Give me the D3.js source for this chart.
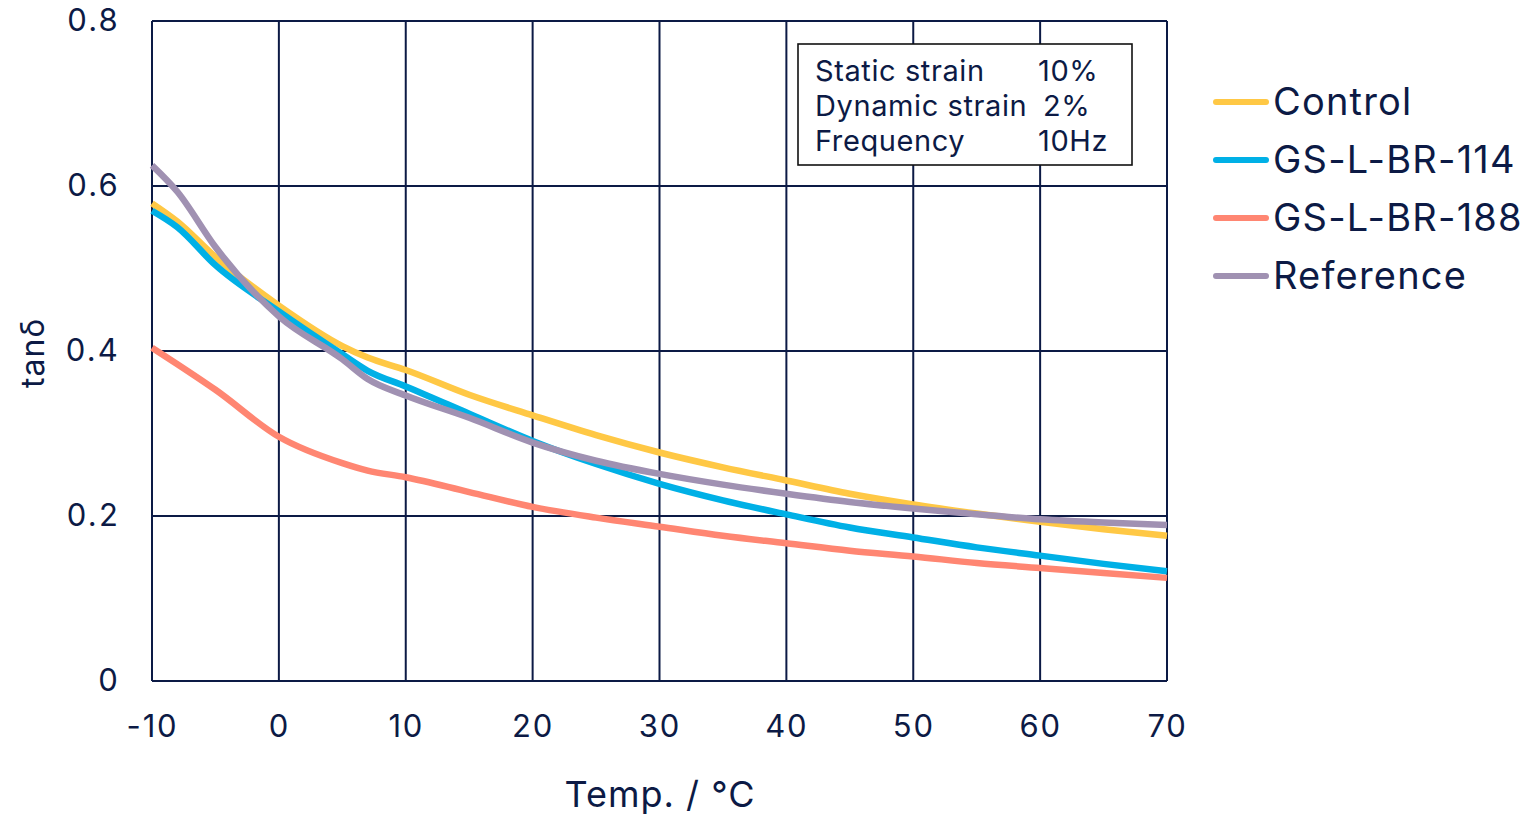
<!DOCTYPE html>
<html>
<head>
<meta charset="utf-8">
<script src="https://cdn.jsdelivr.net/npm/d3@7"></script>
<style>
  html, body { margin: 0; padding: 0; background: #fff; }
  svg { display: block; font-family: Inter, "Noto Sans", sans-serif; }
</style>
</head>
<body>
<svg id="chart" width="1530" height="815"></svg>
<script>
// ---- data ----
const temps      = [-10, -8, -5, 0, 5, 7, 10, 15, 20, 25, 30, 35, 40, 45, 50, 55, 60, 65, 70];
const control    = [0.579, 0.557, 0.514, 0.455, 0.406, 0.392, 0.377, 0.347, 0.322, 0.298, 0.277, 0.259, 0.243, 0.227, 0.214, 0.203, 0.193, 0.184, 0.176];
const gs114      = [0.570, 0.550, 0.504, 0.448, 0.396, 0.376, 0.357, 0.324, 0.291, 0.263, 0.239, 0.219, 0.202, 0.186, 0.174, 0.162, 0.152, 0.142, 0.133];
const gs188      = [0.404, 0.384, 0.353, 0.296, 0.264, 0.255, 0.247, 0.229, 0.211, 0.198, 0.187, 0.176, 0.167, 0.158, 0.151, 0.143, 0.137, 0.131, 0.125];
const reference  = [0.625, 0.593, 0.526, 0.442, 0.390, 0.366, 0.346, 0.319, 0.289, 0.267, 0.251, 0.238, 0.227, 0.217, 0.209, 0.202, 0.196, 0.192, 0.189];
const seriesNames = ["Control", "GS-L-BR-114", "GS-L-BR-188", "Reference"];
const xTicks = [-10, 0, 10, 20, 30, 40, 50, 60, 70];
const xTickLabels = ["-10", "0", "10", "20", "30", "40", "50", "60", "70"];
const yTicks = [0, 0.2, 0.4, 0.6, 0.8];
const yTickLabels = ["0", "0.2", "0.4", "0.6", "0.8"];
const infoLabels = ["Static strain", "Dynamic strain", "Frequency"];
const infoValues = ["10%", "2%", "10Hz"];
const xTitle = "Temp. / °C";
const yTitle = "tanδ";

// ---- styles ----
const colors = ["#ffc845", "#00b0e6", "#ff8672", "#a091b2"];
const ink = "#0c1a45";
const seriesValues = [control, gs114, gs188, reference];

const svg = d3.select("#chart");
const M = { left: 152, right: 1167, top: 21, bottom: 681 };

const x = d3.scaleLinear().domain([-10, 70]).range([M.left, M.right]);
const y = d3.scaleLinear().domain([0, 0.8]).range([M.bottom, M.top]);

// grid
const g = svg.append("g");
g.selectAll("line.vx").data(xTicks).join("line")
  .attr("x1", d => x(d)).attr("x2", d => x(d))
  .attr("y1", y(0)).attr("y2", y(0.8))
  .attr("stroke", ink).attr("stroke-width", 2);
g.selectAll("line.hy").data(yTicks).join("line")
  .attr("x1", x(-10)).attr("x2", x(70))
  .attr("y1", d => y(d)).attr("y2", d => y(d))
  .attr("stroke", ink).attr("stroke-width", 2);

// axes labels via d3 axes (no domain/ticks)
const xAxis = svg.append("g").attr("transform", `translate(0,${M.bottom})`)
  .call(d3.axisBottom(x).tickValues(xTicks).tickSize(0).tickPadding(34)
    .tickFormat((d, i) => xTickLabels[i]));
xAxis.select(".domain").remove();
xAxis.selectAll("text").attr("font-size", 31).attr("fill", ink).attr("font-family", "Inter").attr("letter-spacing", 1.8);

const yAxis = svg.append("g").attr("transform", `translate(${M.left},0)`)
  .call(d3.axisLeft(y).tickValues(yTicks).tickSize(0).tickPadding(32)
    .tickFormat((d, i) => yTickLabels[i]));
yAxis.select(".domain").remove();
yAxis.selectAll("text").attr("font-size", 31).attr("fill", ink).attr("font-family", "Inter").attr("letter-spacing", 2.2);

// lines
const line = d3.line().x((d, i) => x(temps[i])).y(d => y(d)).curve(d3.curveMonotoneX);
const order = [2, 0, 1, 3];
order.forEach(k => {
  svg.append("path").datum(seriesValues[k])
    .attr("d", line).attr("fill", "none")
    .attr("stroke", colors[k]).attr("stroke-width", 6.5)
    .attr("stroke-linejoin", "round");
});

// axis titles
svg.append("text").attr("x", 660).attr("y", 807).attr("text-anchor", "middle")
  .attr("font-size", 36).attr("fill", ink).attr("letter-spacing", 1).text(xTitle);
svg.append("text").attr("transform", "translate(44,353) rotate(-90)").attr("text-anchor", "middle")
  .attr("font-size", 32).attr("fill", ink).attr("letter-spacing", 1).text(yTitle);

// info box
svg.append("rect").attr("x", 798).attr("y", 44).attr("width", 334).attr("height", 121)
  .attr("fill", "#fff").attr("stroke", "#111").attr("stroke-width", 1.6);
infoLabels.forEach((t, i) => {
  svg.append("text").attr("x", 815).attr("y", 81 + i * 35).attr("font-size", 29)
    .attr("fill", ink).attr("letter-spacing", 0.6).text(t);
  svg.append("text").attr("x", i === 1 ? 1043 : 1038).attr("y", 81 + i * 35).attr("font-size", 29)
    .attr("fill", ink).attr("letter-spacing", 0.6).text(infoValues[i]);
});

// legend
const leg = svg.append("g");
seriesNames.forEach((name, i) => {
  const yy = 102 + i * 58;
  leg.append("line").attr("x1", 1216).attr("x2", 1266).attr("y1", yy).attr("y2", yy)
    .attr("stroke", colors[i]).attr("stroke-width", 6).attr("stroke-linecap", "round");
  leg.append("text").attr("x", 1273).attr("y", yy + 13).attr("font-size", 38)
    .attr("fill", ink).attr("letter-spacing", 1.2).text(name);
});
</script>
</body>
</html>
